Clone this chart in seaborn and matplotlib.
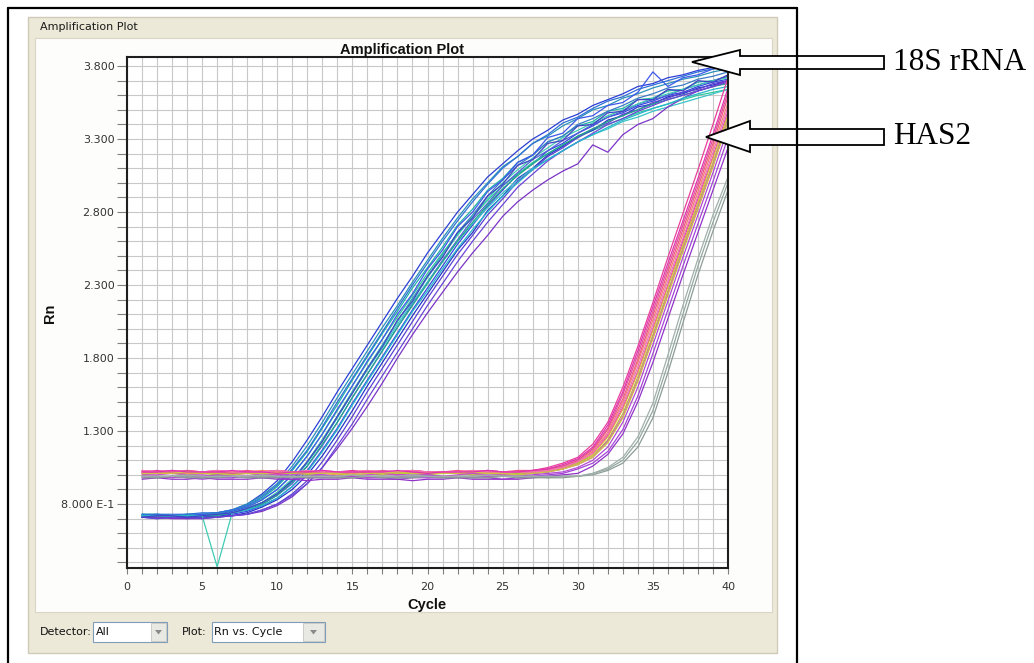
import numpy as np
import pandas as pd
import matplotlib
matplotlib.use("Agg")
import matplotlib.pyplot as plt
from matplotlib.patches import Rectangle, Polygon
from matplotlib.lines import Line2D
import seaborn as sns

# ---------------------------------------------------------------- data
cycles = list(range(1, 41))

# 18S rRNA wells (Rn per cycle)
rrna_w01 = [0.73,0.72,0.72,0.73,0.73,0.74,0.76,0.80,0.87,0.96,1.09,1.24,1.40,1.57,1.73,1.89,2.05,2.21,2.36,2.52,2.66,2.80,2.92,3.04,3.13,3.22,3.30,3.36,3.43,3.47,3.53,3.57,3.61,3.66,3.68,3.72,3.74,3.77,3.79,3.81]
rrna_w02 = [0.72,0.71,0.72,0.72,0.72,0.73,0.75,0.79,0.84,0.92,1.03,1.16,1.32,1.48,1.65,1.81,1.97,2.12,2.28,2.42,2.56,2.71,2.82,2.95,3.03,3.14,3.19,3.28,3.32,3.39,3.42,3.49,3.51,3.57,3.58,3.63,3.64,3.69,3.70,3.73]
rrna_w03 = [0.72,0.72,0.71,0.72,0.72,0.73,0.74,0.77,0.81,0.88,0.97,1.09,1.24,1.40,1.57,1.73,1.89,2.05,2.21,2.36,2.51,2.66,2.78,2.91,3.02,3.12,3.19,3.28,3.32,3.40,3.44,3.49,3.53,3.58,3.61,3.65,3.67,3.71,3.73,3.76]
rrna_w04 = [0.71,0.71,0.71,0.72,0.71,0.72,0.73,0.75,0.79,0.84,0.92,1.03,1.17,1.32,1.49,1.65,1.81,1.97,2.13,2.28,2.43,2.58,2.71,2.84,2.95,3.06,3.13,3.22,3.27,3.34,3.39,3.45,3.48,3.53,3.56,3.60,3.62,3.66,3.69,3.71]
rrna_w05 = [0.73,0.73,0.72,0.73,0.73,0.74,0.75,0.78,0.83,0.90,1.00,1.13,1.28,1.44,1.61,1.77,1.93,2.08,2.23,2.38,2.52,2.65,2.77,2.88,2.98,3.06,3.14,3.20,3.26,3.31,3.36,3.40,3.44,3.48,3.51,3.54,3.57,3.60,3.62,3.64]
rrna_w06 = [0.72,0.72,0.72,0.71,0.72,0.72,0.74,0.76,0.80,0.86,0.94,1.06,1.20,1.36,1.53,1.69,1.85,2.01,2.17,2.32,2.47,2.61,2.75,2.86,2.98,3.07,3.16,3.22,3.29,3.34,3.40,3.45,3.49,3.54,3.57,3.60,3.64,3.67,3.70,3.73]
rrna_w07 = [0.72,0.72,0.72,0.72,0.73,0.74,0.76,0.80,0.86,0.94,1.06,1.20,1.36,1.53,1.69,1.85,2.01,2.16,2.32,2.47,2.62,2.76,2.89,3.00,3.11,3.18,3.27,3.32,3.39,3.44,3.50,3.53,3.58,3.61,3.65,3.68,3.71,3.73,3.76,3.78]
rrna_w08 = [0.71,0.70,0.71,0.71,0.71,0.72,0.72,0.74,0.78,0.83,0.90,1.00,1.13,1.28,1.44,1.61,1.77,1.93,2.09,2.24,2.39,2.54,2.66,2.81,2.91,3.03,3.10,3.19,3.25,3.32,3.36,3.43,3.46,3.52,3.54,3.59,3.61,3.65,3.67,3.70]
rrna_w09 = [0.73,0.72,0.72,0.72,0.73,0.73,0.74,0.77,0.81,0.87,0.96,1.08,1.23,1.39,1.56,1.72,1.87,2.03,2.18,2.32,2.46,2.60,2.72,2.83,2.93,3.02,3.10,3.16,3.22,3.28,3.33,3.37,3.42,3.45,3.49,3.52,3.55,3.58,3.61,3.64]
rrna_w10 = [0.71,0.71,0.71,0.70,0.71,0.71,0.72,0.73,0.76,0.80,0.87,0.96,1.09,1.24,1.40,1.57,1.73,1.89,2.05,2.21,2.36,2.51,2.64,2.78,2.89,3.01,3.09,3.18,3.24,3.31,3.37,3.41,3.47,3.50,3.55,3.58,3.62,3.64,3.68,3.70]
rrna_w11 = [0.72,0.73,0.72,0.72,0.73,0.73,0.75,0.78,0.83,0.90,1.00,1.13,1.28,1.45,1.61,1.78,1.93,2.10,2.24,2.41,2.54,2.70,2.80,2.94,3.02,3.14,3.19,3.31,3.34,3.44,3.46,3.53,3.55,3.62,3.76,3.66,3.72,3.74,3.78,3.80]
rrna_w12 = [0.72,0.71,0.72,0.72,0.72,0.72,0.74,0.76,0.80,0.86,0.95,1.06,1.21,1.36,1.53,1.69,1.85,2.01,2.16,2.31,2.46,2.60,2.73,2.85,2.96,3.05,3.13,3.20,3.26,3.32,3.37,3.42,3.46,3.50,3.54,3.57,3.60,3.63,3.66,3.68]
rrna_w13 = [0.72,0.72,0.72,0.72,0.72,0.37,0.74,0.77,0.81,0.88,0.97,1.09,1.24,1.40,1.57,1.73,1.89,2.05,2.20,2.35,2.50,2.64,2.77,2.89,3.00,3.09,3.17,3.24,3.31,3.36,3.41,3.46,3.50,3.54,3.58,3.61,3.64,3.67,3.70,3.72]
rrna_w14 = [0.71,0.71,0.70,0.70,0.70,0.71,0.72,0.73,0.75,0.79,0.85,0.94,1.05,1.18,1.32,1.47,1.63,1.80,1.96,2.11,2.25,2.39,2.52,2.64,2.77,2.87,2.95,3.02,3.08,3.13,3.26,3.21,3.33,3.40,3.44,3.52,3.58,3.63,3.66,3.70]
rrna_w15 = [0.71,0.70,0.71,0.71,0.70,0.71,0.72,0.73,0.76,0.80,0.86,0.94,1.05,1.20,1.35,1.52,1.68,1.84,2.00,2.16,2.31,2.46,2.60,2.73,2.85,2.97,3.06,3.15,3.22,3.28,3.34,3.40,3.44,3.49,3.53,3.57,3.60,3.63,3.66,3.69]
rrna_w16 = [0.73,0.73,0.73,0.73,0.74,0.74,0.76,0.79,0.85,0.93,1.04,1.17,1.33,1.50,1.66,1.82,1.98,2.14,2.30,2.45,2.60,2.74,2.87,2.99,3.10,3.18,3.27,3.33,3.41,3.45,3.51,3.56,3.59,3.64,3.67,3.70,3.73,3.76,3.78,3.80]
rrna_w17 = [0.72,0.72,0.72,0.72,0.72,0.73,0.74,0.76,0.79,0.84,0.92,1.02,1.16,1.31,1.48,1.64,1.80,1.96,2.12,2.26,2.41,2.55,2.68,2.80,2.91,3.00,3.09,3.16,3.22,3.28,3.33,3.38,3.43,3.47,3.51,3.54,3.58,3.61,3.64,3.66]
rrna_w18 = [0.71,0.72,0.72,0.71,0.72,0.73,0.74,0.77,0.81,0.87,0.96,1.09,1.23,1.40,1.56,1.73,1.88,2.06,2.19,2.36,2.49,2.66,2.76,2.91,2.99,3.12,3.16,3.27,3.29,3.39,3.40,3.48,3.49,3.57,3.57,3.64,3.63,3.70,3.69,3.74]

# HAS2 wells
has2_w01 = [1.02,1.03,1.02,1.02,1.02,1.03,1.02,1.01,1.02,1.03,1.02,1.02,1.01,1.02,1.03,1.02,1.02,1.02,1.03,1.02,1.01,1.02,1.02,1.03,1.02,1.02,1.03,1.05,1.08,1.12,1.21,1.36,1.60,1.88,2.18,2.49,2.79,3.09,3.40,3.72]
has2_w02 = [1.03,1.02,1.02,1.03,1.02,1.02,1.02,1.03,1.02,1.02,1.01,1.02,1.03,1.02,1.02,1.02,1.01,1.02,1.03,1.02,1.02,1.03,1.02,1.02,1.02,1.03,1.03,1.04,1.06,1.10,1.17,1.31,1.52,1.79,2.09,2.39,2.68,2.97,3.27,3.59]
has2_w03 = [1.01,1.02,1.01,1.01,1.02,1.01,1.01,1.02,1.01,1.00,1.01,1.02,1.01,1.01,1.01,1.02,1.01,1.00,1.01,1.01,1.02,1.01,1.01,1.01,1.02,1.01,1.02,1.03,1.05,1.09,1.15,1.27,1.46,1.71,2.00,2.30,2.60,2.89,3.18,3.49]
has2_w04 = [1.02,1.02,1.03,1.02,1.01,1.02,1.02,1.02,1.03,1.02,1.02,1.02,1.01,1.02,1.02,1.03,1.02,1.02,1.01,1.02,1.02,1.02,1.03,1.02,1.01,1.02,1.02,1.03,1.05,1.09,1.16,1.29,1.50,1.77,2.06,2.36,2.65,2.94,3.24,3.55]
has2_w05 = [1.01,1.01,1.02,1.01,1.01,1.01,1.02,1.01,1.01,1.02,1.01,1.01,1.01,1.00,1.01,1.02,1.01,1.01,1.01,1.02,1.01,1.01,1.00,1.01,1.01,1.02,1.02,1.03,1.05,1.08,1.14,1.26,1.45,1.70,1.99,2.29,2.58,2.87,3.17,3.47]
has2_w06 = [1.00,1.01,1.01,1.00,1.01,1.00,1.01,1.01,1.00,1.01,1.01,1.00,1.01,1.01,1.00,1.01,1.00,1.01,1.01,1.00,1.01,1.01,1.00,1.01,1.00,1.01,1.01,1.02,1.04,1.08,1.13,1.24,1.42,1.67,1.96,2.26,2.56,2.85,3.14,3.45]
has2_w07 = [0.98,0.98,0.99,0.98,0.97,0.98,0.98,0.99,0.98,0.98,0.97,0.98,0.98,0.98,0.99,0.98,0.98,0.97,0.98,0.98,0.98,0.99,0.98,0.98,0.97,0.98,0.99,1.00,1.01,1.04,1.08,1.16,1.31,1.54,1.83,2.13,2.43,2.72,3.01,3.31]
has2_w08 = [0.97,0.98,0.97,0.97,0.98,0.97,0.97,0.97,0.98,0.97,0.97,0.96,0.97,0.97,0.98,0.97,0.97,0.97,0.96,0.97,0.97,0.98,0.97,0.97,0.97,0.97,0.98,0.99,1.00,1.01,1.06,1.14,1.28,1.50,1.77,2.07,2.37,2.66,2.95,3.24]
has2_w09 = [1.02,1.02,1.02,1.03,1.02,1.02,1.01,1.02,1.02,1.03,1.02,1.02,1.02,1.01,1.02,1.02,1.03,1.02,1.02,1.02,1.02,1.01,1.02,1.03,1.02,1.02,1.03,1.04,1.06,1.10,1.18,1.32,1.55,1.82,2.12,2.42,2.71,3.00,3.30,3.62]
has2_w10 = [1.00,1.00,1.01,1.00,1.00,0.99,1.00,1.01,1.00,1.00,1.00,1.01,1.00,0.99,1.00,1.00,1.01,1.00,1.00,1.00,0.99,1.00,1.01,1.00,1.00,1.00,1.01,1.02,1.04,1.07,1.12,1.23,1.40,1.65,1.94,2.24,2.54,2.83,3.12,3.43]
has2_w11 = [1.03,1.02,1.03,1.02,1.02,1.03,1.02,1.02,1.02,1.03,1.02,1.03,1.02,1.02,1.02,1.03,1.02,1.02,1.03,1.02,1.02,1.02,1.03,1.02,1.02,1.02,1.02,1.03,1.05,1.09,1.15,1.28,1.48,1.74,2.03,2.33,2.62,2.91,3.21,3.52]
has2_w12 = [1.01,1.01,1.01,1.02,1.01,1.01,1.00,1.01,1.01,1.01,1.02,1.01,1.01,1.01,1.00,1.01,1.01,1.02,1.01,1.01,1.01,1.01,1.02,1.01,1.01,1.00,1.01,1.02,1.04,1.07,1.12,1.22,1.39,1.64,1.93,2.23,2.53,2.82,3.11,3.42]
has2_w13 = [0.99,0.99,0.98,0.99,0.99,1.00,0.99,0.99,0.98,0.99,0.99,0.99,1.00,0.99,0.99,0.98,0.99,0.99,0.99,1.00,0.99,0.98,0.99,0.99,0.99,0.99,1.00,1.01,1.02,1.05,1.10,1.19,1.36,1.60,1.89,2.19,2.49,2.78,3.07,3.37]
has2_w14 = [1.02,1.02,1.03,1.02,1.02,1.02,1.03,1.02,1.02,1.01,1.02,1.02,1.03,1.02,1.02,1.02,1.02,1.03,1.02,1.01,1.02,1.02,1.02,1.03,1.02,1.02,1.03,1.04,1.07,1.11,1.19,1.34,1.57,1.85,2.15,2.45,2.74,3.03,3.33,3.65]

# late wells (grey traces)
late_w01 = [0.99,0.98,0.99,0.99,0.98,0.99,0.99,0.98,0.99,0.99,0.98,0.99,0.99,0.99,0.98,0.99,0.99,0.98,0.99,0.99,0.98,0.99,0.99,0.98,0.99,0.99,0.99,0.98,0.99,0.99,1.01,1.04,1.10,1.23,1.44,1.76,2.10,2.43,2.73,3.00]
late_w02 = [0.98,0.98,0.99,0.98,0.98,0.98,0.99,0.98,0.98,0.98,0.99,0.98,0.98,0.98,0.98,0.99,0.98,0.98,0.98,0.99,0.98,0.98,0.98,0.98,0.99,0.98,0.98,0.98,0.98,0.99,1.00,1.03,1.08,1.19,1.39,1.70,2.04,2.37,2.67,2.95]
late_w03 = [0.99,0.99,0.99,1.00,0.99,0.99,0.99,0.99,1.00,0.99,0.99,0.99,0.99,0.99,1.00,0.99,0.99,0.99,1.00,0.99,0.99,0.99,0.99,1.00,0.99,0.99,0.99,0.99,0.99,0.99,1.01,1.05,1.12,1.26,1.49,1.82,2.16,2.48,2.78,3.04]

rrna_series = [rrna_w01, rrna_w02, rrna_w03, rrna_w04, rrna_w05, rrna_w06, rrna_w07, rrna_w08, rrna_w09,
               rrna_w10, rrna_w11, rrna_w12, rrna_w13, rrna_w14, rrna_w15, rrna_w16, rrna_w17, rrna_w18]
rrna_colors = ["#2b3fd6", "#1fb3a6", "#3a7cc6", "#3347e0", "#2ec79c", "#4f5fd8", "#2a92b8", "#2436c8", "#39c4c8",
               "#5a40d2", "#3d57ea", "#23a98b", "#40ccb4", "#7b34c8", "#6a44d6", "#2f70d8", "#26b6cc", "#4242c4"]
has2_series = [has2_w01, has2_w02, has2_w03, has2_w04, has2_w05, has2_w06, has2_w07,
               has2_w08, has2_w09, has2_w10, has2_w11, has2_w12, has2_w13, has2_w14]
has2_colors = ["#e8409a", "#f2508c", "#d23cc0", "#f28072", "#eba052", "#b9c83a", "#a443d8",
               "#9232c8", "#e05592", "#c952c9", "#f272b2", "#d2c043", "#b24ad2", "#e232b0"]
late_series = [late_w01, late_w02, late_w03]
late_colors = ["#93a6a0", "#8c9c98", "#a0b0aa"]

x_ticks = [0, 5, 10, 15, 20, 25, 30, 35, 40]
y_ticks = [0.8, 1.3, 1.8, 2.3, 2.8, 3.3, 3.8]
y_tick_labels = ["8.000 E-1", "1.300", "1.800", "2.300", "2.800", "3.300", "3.800"]

# ---------------------------------------------------------------- long table
rows = []
palette = {}
order = []
for prefix, group, colors in (("18S", rrna_series, rrna_colors),
                              ("HAS2", has2_series, has2_colors),
                              ("NTC", late_series, late_colors)):
    for i, (vals, col) in enumerate(zip(group, colors)):
        well = f"{prefix}-{i + 1:02d}"
        palette[well] = col
        order.append(well)
        for c, v in zip(cycles, vals):
            rows.append({"Well": well, "Cycle": c, "Rn": v})
df = pd.DataFrame(rows)

# ---------------------------------------------------------------- figure
W, H = 1034, 663

def fx(x):
    return x / W

def fy(y):
    return 1 - y / H

sns.set_theme(style="white")
plt.rcParams["font.family"] = ["DejaVu Sans"]

fig = plt.figure(figsize=(W / 100, H / 100), dpi=100)
fig.patch.set_facecolor("white")

# window panel behind the chart
fig.add_artist(Rectangle((fx(28), fy(653)), (777 - 28) / W, (653 - 17) / H, transform=fig.transFigure,
                         facecolor="#ECE9D8", edgecolor="#CFCBB8", lw=1.0, zorder=-10))
fig.add_artist(Rectangle((fx(35), fy(612)), (772 - 35) / W, (612 - 38) / H, transform=fig.transFigure,
                         facecolor="#FDFDFB", edgecolor="#DAD6C6", lw=0.8, zorder=-9))
fig.text(fx(40), fy(27), "Amplification Plot", fontsize=8, color="#1a1a1a", ha="left", va="center")

ax = fig.add_axes([fx(127), fy(568), (728 - 127) / W, (568 - 57) / H])
ax.set_facecolor("white")

sns.lineplot(data=df, x="Cycle", y="Rn", hue="Well", hue_order=order, palette=palette,
             estimator=None, sort=False, legend=False, linewidth=0.9, ax=ax)

ax.set_xlim(0, 40)
ax.set_ylim(0.362, 3.862)
ax.set_xticks(x_ticks)
ax.set_xticks(range(0, 41), minor=True)
ax.set_yticks(y_ticks)
ax.set_yticklabels(y_tick_labels)
ax.set_yticks(np.round(np.arange(4, 39) / 10, 1), minor=True)
ax.set_axisbelow(True)
ax.grid(True, which="both", color="#c8c8c8", lw=0.8)
ax.set_xlabel("")
ax.set_ylabel("")
ax.tick_params(which="both", bottom=True, left=True, direction="out", color="#808080", width=0.8,
               labelsize=8, labelcolor="#333333")
ax.tick_params(axis="x", which="both", length=4, pad=6)
ax.tick_params(axis="y", which="both", length=7, pad=2)
for side, sp in ax.spines.items():
    sp.set_visible(True)
    sp.set_color("#1e1e1e")
    sp.set_linewidth(1.5)

fig.text(fx(402), fy(50), "Amplification Plot", ha="center", va="center", fontsize=10.5,
         fontweight="bold", family="Liberation Sans", color="#111111")
fig.text(fx(427), fy(605), "Cycle", ha="center", va="center", fontsize=10.5,
         fontweight="bold", family="Liberation Sans", color="#111111")
fig.text(fx(50), fy(313), "Rn", ha="center", va="center", rotation=90, fontsize=10.5,
         fontweight="bold", family="Liberation Sans", color="#111111")

# detector / plot selectors
fig.text(fx(40), fy(632), "Detector:", fontsize=8, color="#111111", ha="left", va="center")
fig.add_artist(Rectangle((fx(93), fy(642)), 74 / W, 20 / H, transform=fig.transFigure,
                         facecolor="white", edgecolor="#7f9db9", lw=0.8))
fig.text(fx(96), fy(632), "All", fontsize=8, color="#111111", ha="left", va="center")
fig.add_artist(Rectangle((fx(151), fy(641)), 15 / W, 18 / H, transform=fig.transFigure,
                         facecolor="#e9e9e4", edgecolor="#c4c4c0", lw=0.6))
fig.add_artist(Polygon([(fx(155), fy(630)), (fx(162), fy(630)), (fx(158.5), fy(634.5))], closed=True,
                       transform=fig.transFigure, facecolor="#8a8a8a", edgecolor="none"))
fig.text(fx(182), fy(632), "Plot:", fontsize=8, color="#111111", ha="left", va="center")
fig.add_artist(Rectangle((fx(212), fy(642)), 113 / W, 20 / H, transform=fig.transFigure,
                         facecolor="white", edgecolor="#7f9db9", lw=0.8))
fig.text(fx(214), fy(632), "Rn vs. Cycle", fontsize=8, color="#111111", ha="left", va="center")
fig.add_artist(Rectangle((fx(303), fy(641)), 21 / W, 18 / H, transform=fig.transFigure,
                         facecolor="#e9e9e4", edgecolor="#c4c4c0", lw=0.6))
fig.add_artist(Polygon([(fx(310), fy(630)), (fx(317), fy(630)), (fx(313.5), fy(634.5))], closed=True,
                       transform=fig.transFigure, facecolor="#8a8a8a", edgecolor="none"))

# callout arrows with target names
arrow_18s = [(692, 62), (740, 50), (740, 56), (884, 56), (884, 69), (740, 69), (740, 75)]
arrow_has2 = [(706, 137), (750, 121), (750, 129), (884, 129), (884, 145), (750, 145), (750, 152)]
for pts in (arrow_18s, arrow_has2):
    fig.add_artist(Polygon([(fx(x), fy(y)) for x, y in pts], closed=True, transform=fig.transFigure,
                           facecolor="white", edgecolor="black", lw=1.3, joinstyle="miter", zorder=4))
fig.text(fx(893), fy(62), "18S rRNA", family="Liberation Serif", fontsize=22.5, ha="left", va="center",
         color="black")
fig.text(fx(893), fy(137), "HAS2", family="Liberation Serif", fontsize=22.5, ha="left", va="center",
         color="black")

# outer frame
for (x0, y0, x1, y1) in ((8, 8, 797, 8), (8, 8, 8, 663), (797, 8, 797, 663)):
    fig.add_artist(Line2D([fx(x0), fx(x1)], [fy(y0), fy(y1)], transform=fig.transFigure,
                          color="black", lw=1.6, zorder=6))

fig.savefig("out.png", dpi=100)
